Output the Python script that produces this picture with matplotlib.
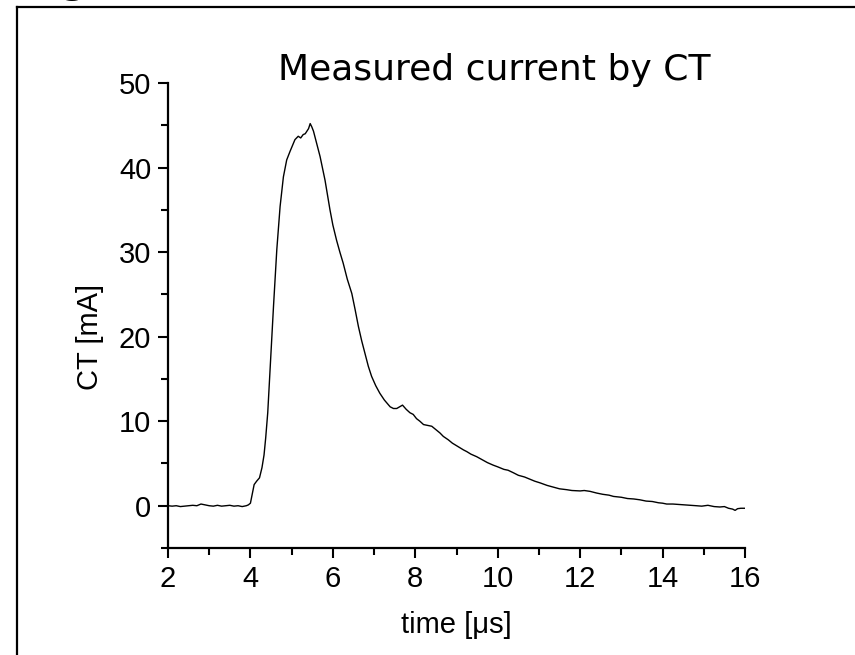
import matplotlib.pyplot as plt
from matplotlib.lines import Line2D

time_us = [2.0, 2.1, 2.2, 2.3, 2.4, 2.5, 2.6, 2.7, 2.8, 2.9, 3.0, 3.1, 3.2, 3.3, 3.4,
           3.5, 3.6, 3.7, 3.8, 3.9, 3.95, 4.0, 4.05, 4.09, 4.15, 4.22, 4.28, 4.33, 4.37,
           4.42, 4.48, 4.56, 4.64, 4.72, 4.80, 4.88, 4.96, 5.02, 5.08, 5.16, 5.22, 5.28,
           5.33, 5.37, 5.41, 5.45, 5.49, 5.53, 5.6, 5.69, 5.81, 5.93, 6.0, 6.09, 6.17,
           6.25, 6.35, 6.46, 6.54, 6.62, 6.7, 6.78, 6.86, 6.94, 7.04, 7.14, 7.25, 7.39,
           7.47, 7.55, 7.62, 7.69, 7.78, 7.87, 7.95, 8.03, 8.11, 8.2, 8.3, 8.40, 8.5,
           8.6, 8.68, 8.8, 8.9, 9.0, 9.1, 9.17, 9.25, 9.35, 9.49, 9.6, 9.75, 9.89, 10.0,
           10.15, 10.25, 10.38, 10.5, 10.65, 10.8, 10.9, 11.03, 11.2, 11.35, 11.5, 11.67,
           11.8, 12.0, 12.1, 12.24, 12.4, 12.55, 12.7, 12.81, 13.0, 13.15, 13.3, 13.45,
           13.6, 13.75, 13.9, 14.0, 14.1, 14.25, 14.4, 14.55, 14.7, 14.82, 14.95, 15.1,
           15.25, 15.39, 15.5, 15.6, 15.7, 15.76, 15.82, 15.9, 16.0]
ct_ma = [0.0, -0.05, 0.0, -0.1, -0.05, 0.0, 0.05, 0.0, 0.2, 0.1, 0.0, -0.05, 0.05, -0.05, 0.0,
         0.05, -0.05, 0.0, -0.1, 0.0, 0.1, 0.3, 1.5, 2.5, 2.9, 3.3, 4.5, 6.0, 8.0,
         11.0, 16.5, 23.6, 30.3, 35.4, 38.9, 40.9, 41.9, 42.6, 43.3, 43.7, 43.5, 43.9,
         44.0, 44.3, 44.6, 45.2, 44.8, 44.3, 43.0, 41.3, 38.5, 35.0, 33.2, 31.4, 30.0,
         28.7, 26.8, 25.1, 23.2, 21.2, 19.5, 18.0, 16.5, 15.3, 14.2, 13.3, 12.5, 11.7,
         11.5, 11.5, 11.7, 11.9, 11.4, 11.0, 10.8, 10.3, 10.0, 9.6, 9.5, 9.4, 9.0,
         8.6, 8.2, 7.8, 7.4, 7.1, 6.8, 6.6, 6.4, 6.1, 5.8, 5.5, 5.1, 4.8, 4.6,
         4.3, 4.2, 3.9, 3.6, 3.4, 3.1, 2.9, 2.7, 2.4, 2.2, 2.0, 1.9,
         1.8, 1.75, 1.8, 1.7, 1.5, 1.35, 1.25, 1.1, 1.0, 0.85, 0.8, 0.7,
         0.55, 0.5, 0.35, 0.3, 0.2, 0.2, 0.15, 0.1, 0.05, 0.0, -0.05, 0.05,
         -0.1, -0.15, -0.1, -0.3, -0.4, -0.55, -0.35, -0.3, -0.3]

x_major = [2, 4, 6, 8, 10, 12, 14, 16]
x_minor = [3, 5, 7, 9, 11, 13, 15]
y_major = [0, 10, 20, 30, 40, 50]
y_minor = [-5, 5, 15, 25, 35, 45]

plt.rcParams['font.family'] = ['Liberation Sans', 'DejaVu Sans']

fig = plt.figure(figsize=(8.55, 6.55), dpi=100)
ax = fig.add_axes([168/855, 107/655, 577/855, 465/655])
ax.plot(time_us, ct_ma, color='black', lw=1.0)

ax.set_xlim(2, 16)
ax.set_ylim(-5, 50)
ax.spines['top'].set_visible(False)
ax.spines['right'].set_visible(False)
ax.spines['left'].set_linewidth(1.6)
ax.spines['bottom'].set_linewidth(1.6)
ax.set_xticks(x_major)
ax.set_xticks(x_minor, minor=True)
ax.set_yticks(y_major)
ax.set_yticks(y_minor, minor=True)
ax.tick_params(which='major', direction='out', length=7, width=1.5, labelsize=21, pad=5)
ax.tick_params(which='minor', direction='out', length=5, width=1.5)

ax.set_xlabel('time [\u03bcs]', fontsize=21)
ax.xaxis.set_label_coords(0.499, -0.166)
ax.xaxis.label.set_va('center')
ax.set_ylabel('CT [mA]', fontsize=21)
ax.yaxis.set_label_coords(-0.135, 0.454)
ax.yaxis.label.set_va('center')

fig.text(494/855, 1 - 80/655, 'Measured current by CT', ha='center', va='baseline',
         fontsize=26, family='DejaVu Sans')

# slide frame, cut off at right and bottom
fig.add_artist(Line2D([17/855, 17/855], [0, 1 - 7/655], transform=fig.transFigure,
                      color='black', lw=1.6))
fig.add_artist(Line2D([17/855, 1], [1 - 7/655, 1 - 7/655], transform=fig.transFigure,
                      color='black', lw=1.6))
# tail of a heading letter above the frame
fig.text(60/855, 1 + 6/655, 'g', ha='left', va='baseline', fontsize=26,
         fontweight='bold', family='DejaVu Sans')

fig.savefig('out.png', dpi=100)
